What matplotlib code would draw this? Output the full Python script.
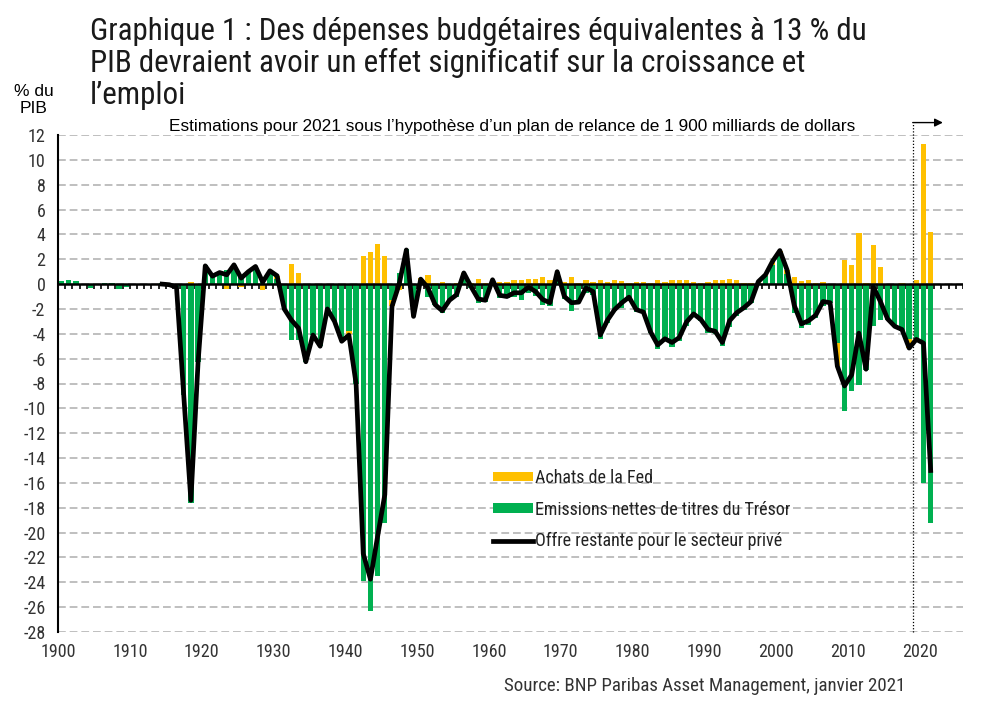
import numpy as np
import matplotlib
matplotlib.use("Agg")
import matplotlib.pyplot as plt
import matplotlib.font_manager as fm
from matplotlib.patches import Patch
from matplotlib.lines import Line2D

# ---------------- data ----------------
years = list(range(1900, 2022))
treasury = [
    0.25, 0.32, 0.22, 0.0, -0.3, 0.0, 0.12, 0.12, -0.4, -0.2,        # 1900-1909
    0.0, 0.0, 0.0, 0.0, 0.1, 0.0, -0.25, -8.9, -17.6, -6.3,          # 1910-1919
    1.5, 0.65, 0.95, 1.15, 1.55, 0.75, 1.0, 1.42, 0.6, 1.07,         # 1920-1929
    0.45, -2.1, -4.5, -4.5, -6.3, -4.1, -5.0, -2.0, -3.0, -4.6,      # 1930-1939
    -3.8, -8.0, -23.9, -26.35, -23.5, -19.25, -1.3, 0.9, 2.85, -1.9,  # 1940-1949
    -0.1, -1.0, -1.65, -2.35, -1.25, -1.0, 0.8, -0.3, -1.5, -1.45,   # 1950-1959
    0.35, -1.1, -1.15, -1.05, -1.25, -0.7, -0.95, -1.65, -1.75, 1.0,  # 1960-1969
    -1.2, -2.2, -1.5, -0.7, -0.85, -4.45, -3.1, -2.2, -1.9, -1.4,    # 1970-1979
    -2.25, -2.35, -3.9, -5.25, -4.6, -5.05, -4.6, -3.35, -2.55, -3.0, # 1980-1989
    -3.9, -4.05, -5.0, -3.45, -2.6, -2.05, -1.5, 0.1, 0.65, 1.55,    # 1990-1999
    2.5, 0.8, -2.3, -3.55, -3.3, -2.75, -1.8, -1.5, -4.75, -10.25,   # 2000-2009
    -8.6, -8.15, -6.9, -3.4, -2.85, -2.85, -3.4, -3.8, -4.4, -4.5,   # 2010-2019
    -16.0, -19.2,                                                    # 2020-2021
]
fed = [
    0, 0, 0, 0, 0, 0, 0, 0, 0, 0,
    0, 0, 0, 0, 0, 0, 0, 0, 0.2, 0,
    0, 0, 0, -0.4, 0, -0.27, 0, 0, -0.45, 0,
    0.22, 0, 1.65, 0.9, 0, 0, 0, 0, 0, 0,
    -0.2, 0, 2.25, 2.6, 3.2, 2.3, -0.5, -0.45, 0, -0.7,
    0.5, 0.75, 0.05, 0.2, 0, 0.1, 0.1, 0.1, 0.45, 0.1,
    0, 0.2, 0.2, 0.35, 0.3, 0.43, 0.4, 0.56, 0.3, 0,
    0.2, 0.6, 0.1, 0.35, 0.2, 0.3, 0.15, 0.35, 0.25, 0.1,
    0.15, 0.15, 0.08, 0.35, 0.15, 0.3, 0.3, 0.3, 0.15, 0.1,
    0.2, 0.35, 0.35, 0.43, 0.3, 0.1, 0.1, 0.1, 0.1, 0.25,
    0.2, 0.35, 0.6, 0.25, 0.3, 0.1, 0.2, 0, -1.85, 1.95,
    1.5, 4.1, 0.05, 3.15, 1.35, 0, 0, 0.1, -0.75, 0.3,
    11.25, 4.2,
]
nan = float("nan")
private_supply = [
    nan, nan, nan, nan, nan, nan, nan, nan, nan, nan,
    nan, nan, nan, nan, 0.0, -0.05, -0.25, -8.9, -17.4, -6.3,
    1.47, 0.64, 0.93, 0.75, 1.55, 0.48, 1.0, 1.42, 0.16, 1.07,
    0.67, -2.0, -2.9, -3.55, -6.25, -4.1, -5.0, -2.0, -3.0, -4.6,
    -4.1, -8.0, -21.7, -23.75, -20.3, -16.95, -1.8, 0.0, 2.75, -2.6,
    0.4, -0.3, -1.65, -2.15, -1.3, -0.85, 0.9, -0.2, -1.2, -1.3,
    0.35, -0.9, -1.0, -0.7, -0.7, -0.25, -0.6, -1.25, -1.5, 1.0,
    -1.0, -1.5, -1.45, -0.3, -0.6, -4.1, -2.9, -2.05, -1.5, -1.05,
    -2.05, -2.25, -3.85, -4.9, -4.4, -4.7, -4.3, -3.05, -2.4, -2.85,
    -3.65, -3.8, -4.7, -2.95, -2.3, -1.9, -1.4, 0.2, 0.75, 1.85,
    2.7, 1.15, -1.7, -3.2, -2.95, -2.5, -1.4, -1.5, -6.6, -8.2,
    -7.3, -3.95, -6.85, -0.2, -1.4, -2.8, -3.4, -3.65, -5.15, -4.45,
    -4.75, -15.0,
]
y_ticks = list(range(-28, 13, 2))
x_ticks = list(range(1900, 2021, 10))
estimate_start = 2019

labels = ["Achats de la Fed",
          "Emissions nettes de titres du Trésor",
          "Offre restante pour le secteur privé"]
title = ("Graphique 1 : Des dépenses budgétaires équivalentes à 13 % du\n"
         "PIB devraient avoir un effet significatif sur la croissance et\n"
         "l\u2019emploi")
subtitle = ("Estimations pour 2021 sous l\u2019hypothèse d\u2019un plan de relance "
            "de 1 900 milliards de dollars")
source = "Source: BNP Paribas Asset Management, janvier 2021"

# ---------------- fonts ----------------
def pick_condensed(weights):
    cands = []
    for f in fm.fontManager.ttflist:
        if f.style != "normal":
            continue
        nm = f.name
        cond = (str(f.stretch) in ("condensed", "semi-condensed", "extra-condensed")
                or "Narrow" in nm or "Condensed" in nm)
        if not cond:
            continue
        try:
            w = int(f.weight)
        except Exception:
            w = 400
        cands.append((f, w))
    if not cands:
        return None
    pref = ["Roboto Condensed", "Open Sans Condensed", "Noto Sans", "DejaVu Sans",
            "Liberation Sans Narrow"]
    def score(item):
        f, w = item
        wscore = min(abs(w - x) for x in weights)
        ns = 99
        for i, p in enumerate(pref):
            if f.name.startswith(p):
                ns = i
                break
        st = 0 if str(f.stretch) in ("condensed", "semi-condensed") else 1
        return (wscore, st, ns)
    cands.sort(key=score)
    return fm.FontProperties(fname=cands[0][0].fname)

fp_title = pick_condensed([400])
fp_light = pick_condensed([300, 400])
if fp_title is None:
    fp_title = fm.FontProperties(family="Liberation Sans")
if fp_light is None:
    fp_light = fm.FontProperties(family="Liberation Sans")
fp_arial = fm.FontProperties(family="Liberation Sans")

def fpsize(fp, size):
    p = fp.copy()
    p.set_size(size)
    return p

# ---------------- figure ----------------
W, H = 993, 713
fig = plt.figure(figsize=(W / 100, H / 100), dpi=100)
ax = fig.add_axes([58 / W, 1 - 632 / H, (963 - 58) / W, (632 - 135) / H])

x = np.array(years, dtype=float) + 0.5
tr = np.array(treasury)
fd = np.array(fed)
ln = np.array(private_supply)

GREEN = "#00B050"
ORANGE = "#FFC000"
bw = 0.74
ax.bar(x, tr, width=bw, color=GREEN, zorder=2)
fed_bottom = np.where(np.sign(fd) == np.sign(tr), tr, 0.0)
ax.bar(x, fd, width=bw, bottom=fed_bottom, color=ORANGE, zorder=2)

ax.set_xlim(1900, 2026)
ax.set_ylim(-28, 12)

# gridlines
ax.set_yticks(y_ticks)
ax.set_yticklabels([str(v) for v in y_ticks])
ax.yaxis.grid(True, color="#BFBFBF", linestyle=(0, (4, 2)), linewidth=1.4, zorder=0)
ax.set_axisbelow(True)

# zero line with category ticks
ax.axhline(0, color="black", lw=1.8, zorder=3)
ax.vlines(np.arange(1901, 2027), -0.4, 0, color="black", lw=1.2, zorder=1)

ax.plot(x, ln, color="black", lw=3.4, zorder=5, solid_joinstyle="round")

for s in ["top", "right", "bottom"]:
    ax.spines[s].set_visible(False)
ax.spines["left"].set_linewidth(1.5)
ax.spines["left"].set_zorder(6)

ax.set_xticks(x_ticks)
ax.set_xticklabels([str(v) for v in x_ticks])
ax.tick_params(axis="x", length=0, pad=8, colors="#333333")
ax.tick_params(axis="y", length=0, pad=9, colors="#333333")
for t in ax.get_xticklabels() + ax.get_yticklabels():
    t.set_fontproperties(fpsize(fp_light, 13))

# estimate marker: dotted line and arrow
ax.plot([estimate_start, estimate_start], [-28, 13.0], color="black", lw=0.9,
        ls=(0, (1, 1.5)), clip_on=False, zorder=4)
ax.annotate("", xy=(estimate_start + 4.2, 13.0), xytext=(estimate_start, 13.0),
            xycoords="data", annotation_clip=False,
            arrowprops=dict(arrowstyle="-|>", color="black", lw=1.0,
                            mutation_scale=12, shrinkA=0, shrinkB=0))

# legend
handles = [Patch(facecolor=ORANGE, edgecolor="none"),
           Patch(facecolor=GREEN, edgecolor="none"),
           Line2D([0], [0], color="black", lw=3.4)]
leg = ax.legend(handles, labels, loc="upper left",
                bbox_to_anchor=((493 - 58) / 905, (632 - 469) / 497),
                frameon=False, borderaxespad=0, borderpad=0,
                handlelength=2.2, handleheight=0.45, handletextpad=0.1,
                labelspacing=0.75, prop=fpsize(fp_light, 13))
for t in leg.get_texts():
    t.set_color("#222222")

# texts
fig.text(90 / W, 1 - 17 / H, title, ha="left", va="top",
         fontproperties=fpsize(fp_title, 22.3), color="#1a1a1a", linespacing=1.1)
fig.text(512 / W, 1 - 126 / H, subtitle, ha="center", va="center",
         fontproperties=fpsize(fp_arial, 12.4), color="black")
fig.text(34 / W, 1 - 100 / H, "% du\nPIB", ha="center", va="center",
         fontproperties=fpsize(fp_arial, 12.5), color="black", linespacing=1.12)
fig.text(905 / W, 1 - 686 / H, source, ha="right", va="center",
         fontproperties=fpsize(fp_light, 13.6), color="#333333")

fig.savefig("out.png", dpi=100)
